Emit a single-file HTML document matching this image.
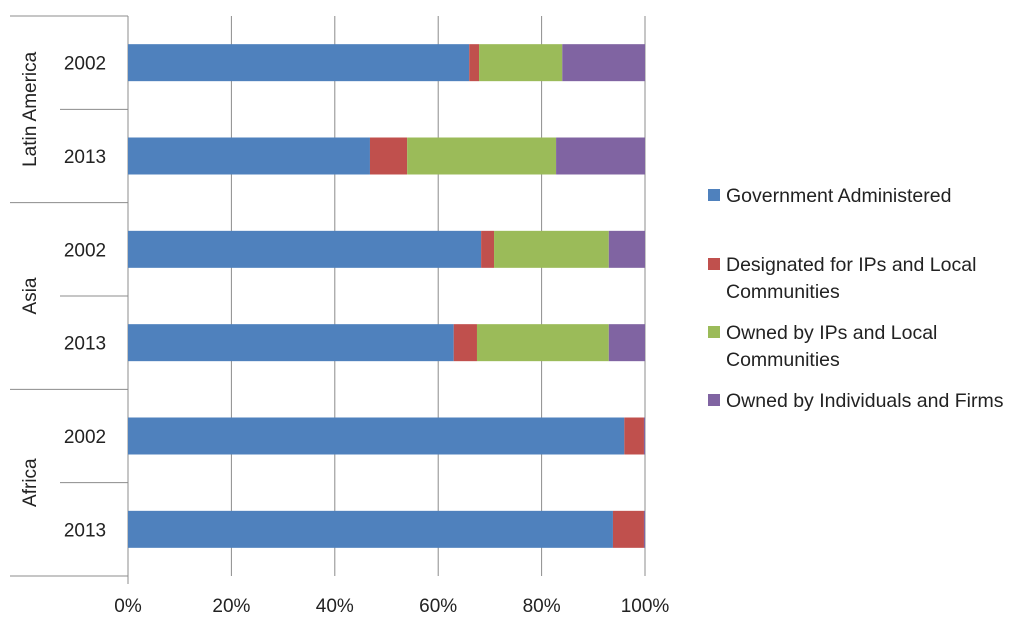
<!DOCTYPE html>
<html><head><meta charset="utf-8"><style>
body{margin:0;background:#fff;}
svg{display:block;font-family:"Liberation Sans",Arial,sans-serif;}
</style></head><body>
<svg id="chart" width="1024" height="622" viewBox="0 0 1024 622">
<g id="grid"></g><g id="bars"></g><g id="axes"></g><g id="legend"></g>
</svg>
<script>
const regions = ["Latin America","Asia","Africa"];
const years = ["2002","2013"];
const seriesNames = ["Government Administered","Designated for IPs and Local Communities","Owned by IPs and Local Communities","Owned by Individuals and Firms"];
const government = [66, 46.8, 68.3, 63, 96, 93.8];
const designated = [1.9, 7.2, 2.5, 4.5, 3.8, 6.0];
const ownedIPs = [16.1, 28.8, 22.2, 25.5, 0, 0];
const individuals = [16, 17.2, 7, 7, 0.2, 0.2];
const ticks = [0,20,40,60,80,100];
const colors = ["#4f81bd","#c0504d","#9bbb59","#8064a2"];
const NS="http://www.w3.org/2000/svg";
const x0=128,x1=645,yTop=16,yBot=576;
const nRows=6, rowH=(yBot-yTop)/nRows, barH=37;
function xs(v){return x0+(x1-x0)*v/100;}
function rowY(i){return yTop+rowH*(i+0.5);}
function mk(tag,attrs,parent,txt){const e=document.createElementNS(NS,tag);for(const k in attrs)e.setAttribute(k,attrs[k]);if(txt!==undefined)e.textContent=txt;parent.appendChild(e);return e;}
const grid=document.getElementById('grid'),bars=document.getElementById('bars'),axes=document.getElementById('axes'),leg=document.getElementById('legend');
ticks.forEach(t=>{
  const l=mk('line',{x1:xs(t),x2:xs(t),y1:yTop,y2:t===0?yBot+8:yBot,stroke:'#8c8c8c','stroke-width':1},grid);
  
  
  const tx=mk('text',{x:xs(t),y:612,'text-anchor':'middle','font-size':19,fill:'#222'},axes,t+'%');
  
  
});
const series=[government,designated,ownedIPs,individuals];
for(let i=0;i<nRows;i++){
  let acc=0;
  series.forEach((s,k)=>{
    const r=mk('rect',{x:xs(acc),y:rowY(i)-barH/2,width:Math.max(0,xs(acc+s[i])-xs(acc)),height:barH,fill:colors[k]},bars);
    
    
    acc+=s[i];
  });
  const yl=mk('text',{x:85,y:rowY(i)+7,'text-anchor':'middle','font-size':19,fill:'#222'},axes,years[i%2]);
  
  
}
for(let g=0;g<=3;g++){const y=yTop+rowH*2*g;const l=mk('line',{x1:10,x2:x0,y1:y,y2:y,stroke:'#8c8c8c'},axes);}
for(let g=0;g<3;g++){const y=yTop+rowH*(2*g+1);const l=mk('line',{x1:60,x2:x0,y1:y,y2:y,stroke:'#8c8c8c'},axes);}
regions.forEach((r,g)=>{const cy=yTop+rowH*(2*g+1);const t=mk('text',{x:0,y:0,transform:`translate(36 ${cy}) rotate(-90)`,'text-anchor':'middle','font-size':19,fill:'#222'},axes,r);});
const legItems=[[196,["Government Administered"]],[265,["Designated for IPs and Local","Communities"]],[333,["Owned by IPs and Local","Communities"]],[401,["Owned by Individuals and Firms"]]];
legItems.forEach((it,k)=>{
  const g=mk('g',{},leg);
  
  
  mk('rect',{x:708,y:it[0]-7,width:12,height:12,fill:colors[k]},g);
  it[1].forEach((ln,j)=>mk('text',{x:726,y:it[0]+6+j*27,'font-size':19.5,fill:'#222'},g,ln));
});
</script>
</body></html>
